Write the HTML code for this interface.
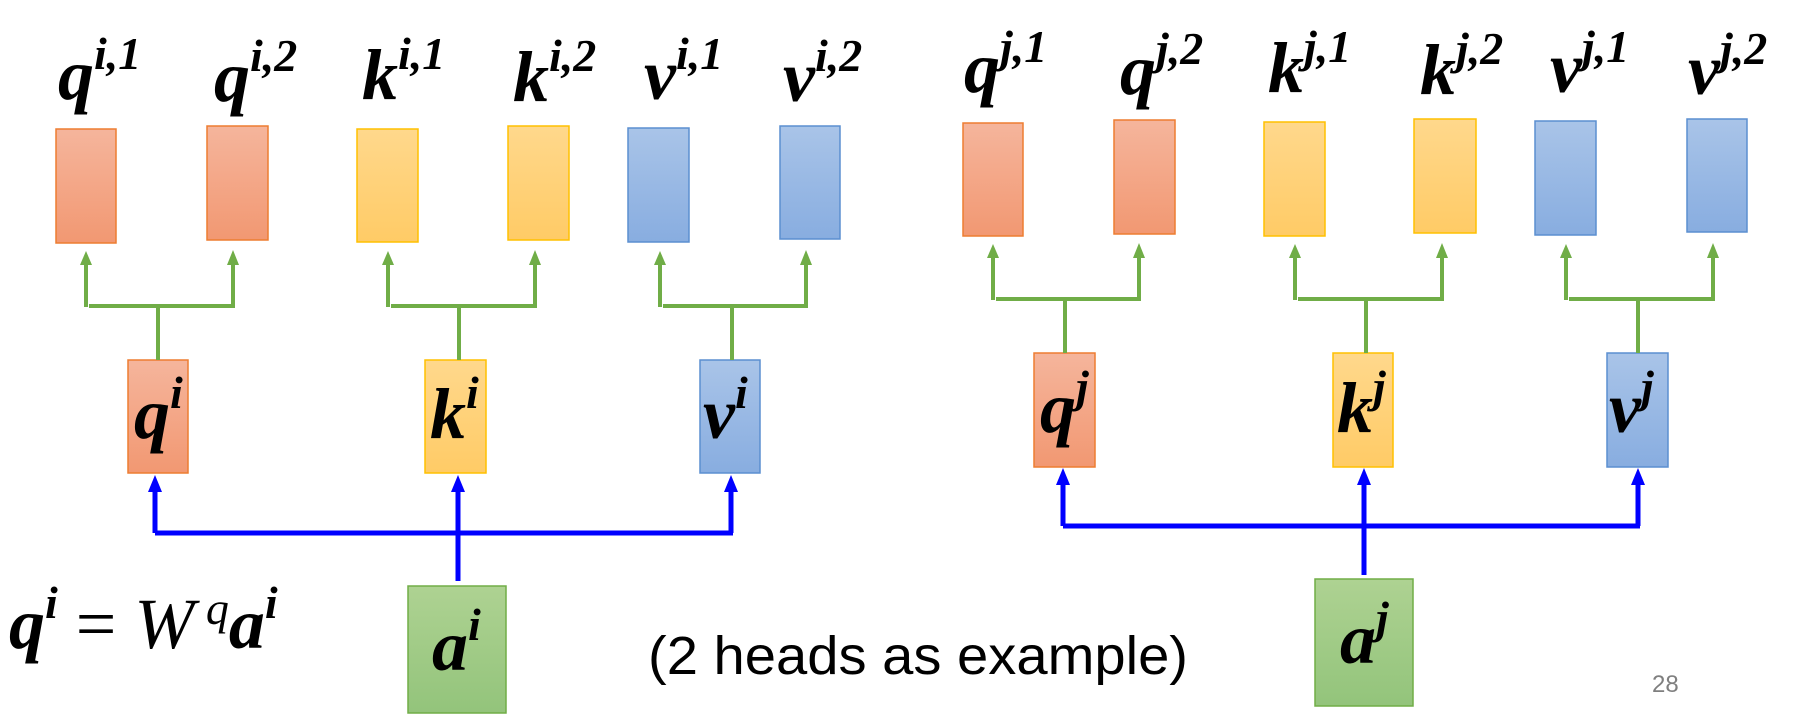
<!DOCTYPE html>
<html><head><meta charset="utf-8"><style>
html,body{margin:0;padding:0;background:#fff;}
svg{display:block}
.l{font-family:"Liberation Serif",serif;font-weight:bold;font-style:italic;font-size:72px;fill:#000}
.s{font-size:46px;font-style:italic}
</style></head><body>
<svg width="1806" height="724" viewBox="0 0 1806 724" xmlns="http://www.w3.org/2000/svg">
<defs>
<linearGradient id="r" x1="0" y1="0" x2="0" y2="1"><stop offset="0" stop-color="#f5b59c"/><stop offset="1" stop-color="#f29872"/></linearGradient>
<linearGradient id="y" x1="0" y1="0" x2="0" y2="1"><stop offset="0" stop-color="#ffd88c"/><stop offset="1" stop-color="#ffcb66"/></linearGradient>
<linearGradient id="b" x1="0" y1="0" x2="0" y2="1"><stop offset="0" stop-color="#a9c4e8"/><stop offset="1" stop-color="#88ade0"/></linearGradient>
<linearGradient id="g" x1="0" y1="0" x2="0" y2="1"><stop offset="0" stop-color="#aed292"/><stop offset="1" stop-color="#93c47b"/></linearGradient>
</defs>
<g stroke-width="1.5">
<rect x="56" y="129" width="60" height="114" fill="url(#r)" stroke="#ed7d31"/>
<rect x="207" y="126" width="61" height="114" fill="url(#r)" stroke="#ed7d31"/>
<rect x="357" y="129" width="61" height="113" fill="url(#y)" stroke="#ffc000"/>
<rect x="508" y="126" width="61" height="114" fill="url(#y)" stroke="#ffc000"/>
<rect x="628" y="128" width="61" height="114" fill="url(#b)" stroke="#5b8fd0"/>
<rect x="780" y="126" width="60" height="113" fill="url(#b)" stroke="#5b8fd0"/>
<rect x="128" y="360" width="60" height="113" fill="url(#r)" stroke="#ed7d31"/>
<rect x="425" y="360" width="61" height="113" fill="url(#y)" stroke="#ffc000"/>
<rect x="700" y="360" width="60" height="113" fill="url(#b)" stroke="#5b8fd0"/>
<rect x="408" y="586" width="98" height="127" fill="url(#g)" stroke="#70ad47"/>
<rect x="963" y="123" width="60" height="113" fill="url(#r)" stroke="#ed7d31"/>
<rect x="1114" y="120" width="61" height="114" fill="url(#r)" stroke="#ed7d31"/>
<rect x="1264" y="122" width="61" height="114" fill="url(#y)" stroke="#ffc000"/>
<rect x="1414" y="119" width="62" height="114" fill="url(#y)" stroke="#ffc000"/>
<rect x="1535" y="121" width="61" height="114" fill="url(#b)" stroke="#5b8fd0"/>
<rect x="1687" y="119" width="60" height="113" fill="url(#b)" stroke="#5b8fd0"/>
<rect x="1034" y="353" width="61" height="114" fill="url(#r)" stroke="#ed7d31"/>
<rect x="1333" y="353" width="60" height="114" fill="url(#y)" stroke="#ffc000"/>
<rect x="1607" y="353" width="61" height="114" fill="url(#b)" stroke="#5b8fd0"/>
<rect x="1315" y="579" width="98" height="127" fill="url(#g)" stroke="#70ad47"/>
</g>
<g stroke="#70ad47" stroke-width="4" fill="none">
<path d="M86 307V262M233 307V262M89 306H235M158 306V360"/>
<path d="M388 307V262M535 307V262M391 306H537M459 306V360"/>
<path d="M660 307V262M806 307V262M663 306H808M732 306V360"/>
<path d="M993 300V255M1139 300V255M996 299H1141M1065 299V353"/>
<path d="M1295 300V255M1442 300V255M1298 299H1444M1366 299V353"/>
<path d="M1566 300V255M1713 300V255M1569 299H1715M1638 299V353"/>
</g>
<g fill="#70ad47">
<path d="M80 265L86 251L92 265Z"/><path d="M227 265L233 250L239 265Z"/>
<path d="M382 265L388 251L394 265Z"/><path d="M529 265L535 250L541 265Z"/>
<path d="M654 265L660 251L666 265Z"/><path d="M800 265L806 250L812 265Z"/>
<path d="M987 258L993 244L999 258Z"/><path d="M1133 258L1139 243L1145 258Z"/>
<path d="M1289 258L1295 244L1301 258Z"/><path d="M1436 258L1442 243L1448 258Z"/>
<path d="M1560 258L1566 244L1572 258Z"/><path d="M1707 258L1713 243L1719 258Z"/>
</g>
<g stroke="#0000ff" stroke-width="5" fill="none">
<path d="M155 533V488M731 533V488M155 533H733M458 581V488"/>
<path d="M1063 526V481M1638 526V481M1063 526H1640M1364 575V481"/>
</g>
<g fill="#0000ff">
<path d="M148 492L155 475L162 492Z"/><path d="M451 492L458 475L465 492Z"/><path d="M724 492L731 475L738 492Z"/>
<path d="M1056 485L1063 468L1070 485Z"/><path d="M1357 485L1364 468L1371 485Z"/><path d="M1631 485L1638 468L1645 485Z"/>
</g>
<g class="l">
<text x="58" y="99">q<tspan class="s" dy="-30">i,1</tspan></text>
<text x="214" y="101">q<tspan class="s" dy="-30">i,2</tspan></text>
<text x="362" y="99">k<tspan class="s" dy="-30">i,1</tspan></text>
<text x="513" y="101">k<tspan class="s" dy="-30">i,2</tspan></text>
<text x="644" y="99">v<tspan class="s" dy="-30">i,1</tspan></text>
<text x="783" y="101">v<tspan class="s" dy="-30">i,2</tspan></text>
<text x="964" y="92">q<tspan class="s" dy="-30">j,1</tspan></text>
<text x="1120" y="94">q<tspan class="s" dy="-30">j,2</tspan></text>
<text x="1268" y="92">k<tspan class="s" dy="-30">j,1</tspan></text>
<text x="1420" y="94">k<tspan class="s" dy="-30">j,2</tspan></text>
<text x="1550" y="92">v<tspan class="s" dy="-30">j,1</tspan></text>
<text x="1688" y="94">v<tspan class="s" dy="-30">j,2</tspan></text>
<text x="134" y="438">q<tspan class="s" dy="-30">i</tspan></text>
<text x="430" y="438">k<tspan class="s" dy="-30">i</tspan></text>
<text x="703" y="438">v<tspan class="s" dy="-30">i</tspan></text>
<text x="1040" y="432">q<tspan class="s" dy="-30">j</tspan></text>
<text x="1337" y="432">k<tspan class="s" dy="-30">j</tspan></text>
<text x="1609" y="432">v<tspan class="s" dy="-30">j</tspan></text>
<text x="432" y="670">a<tspan class="s" dy="-30">i</tspan></text>
<text x="1340" y="663">a<tspan class="s" dy="-30">j</tspan></text>
<text x="9" y="648">q<tspan class="s" dy="-30">i</tspan><tspan dy="30" font-style="normal" font-weight="normal"> = </tspan><tspan font-weight="normal">W</tspan><tspan class="s" font-weight="normal" dy="-24"> q</tspan><tspan dy="24">a</tspan><tspan class="s" dy="-30">i</tspan></text>
</g>
<text x="648" y="674" font-family="Liberation Sans, sans-serif" font-size="54" fill="#000" textLength="540" lengthAdjust="spacingAndGlyphs">(2 heads as example)</text>
<text x="1652" y="692" font-family="Liberation Sans, sans-serif" font-size="24" fill="#7f7f7f">28</text>
</svg>
</body></html>
